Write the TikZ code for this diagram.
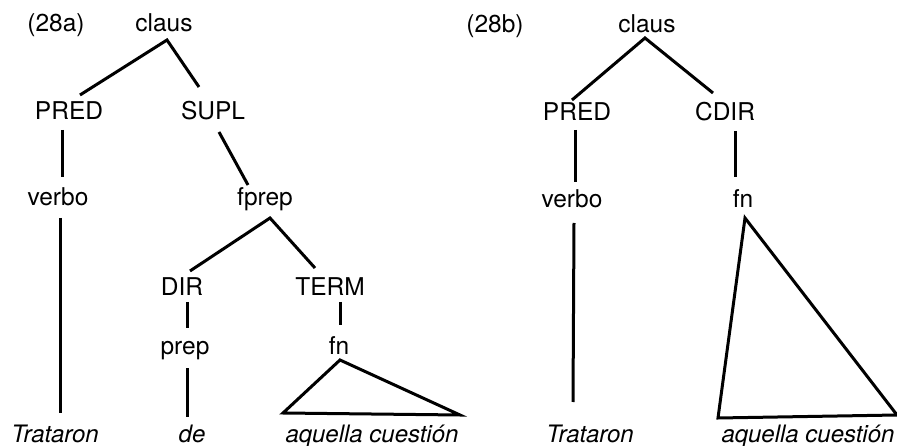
\documentclass[tikz,border=0pt]{standalone}
\usepackage{fontspec}
\setmainfont{TeX Gyre Heros}
\usetikzlibrary{calc}

\begin{document}
\begin{tikzpicture}[x=1pt, y=-1pt,
    lbl/.style={anchor=base, inner sep=0pt, font=\fontsize{24.5}{29}\selectfont},
    leaf/.style={lbl, font=\fontsize{24}{29}\selectfont\itshape},
    branch/.style={line width=3pt}]
    \useasboundingbox (0,0) rectangle (897,446);
    % (28a)
    \node[lbl] (laba) at (56,32) {(28a)};
    \node[lbl] (clausa) at (164,32) {claus};
    \node[lbl] (preda) at (69,120) {PRED};
    \node[lbl] (supla) at (213,120) {SUPL};
    \node[lbl] (verboa) at (58,206) {verbo};
    \node[lbl] (fprepa) at (265,206) {fprep};
    \node[lbl] (dira) at (182,296) {DIR};
    \node[lbl] (terma) at (330,296) {TERM};
    \node[lbl] (prepa) at (185,354) {prep};
    \node[lbl] (fna) at (339,355) {fn};
    \node[leaf] (trata) at (55,442) {Trataron};
    \node[leaf] (dea) at (192,442) {de};
    \node[leaf] (aqa) at (372,442) {aquella cuestión};
    \draw[branch] ($(preda.base)+(11,-25)$) -- ($(clausa.base)+(3,8)$) -- ($(supla.base)+(-14,-33)$);
    \draw[branch] ($(preda.base)+(-7,10)$) -- ($(verboa.base)+(4,-29)$);
    \draw[branch] ($(verboa.base)+(2,12)$) -- ($(trata.base)+(5,-29)$);
    \draw[branch] ($(supla.base)+(6,12)$) -- ($(fprepa.base)+(-17,-21)$);
    \draw[branch] ($(dira.base)+(8,-25)$) -- ($(fprepa.base)+(5,12)$) -- ($(terma.base)+(-15,-28)$);
    \draw[branch] ($(dira.base)+(5,6)$) -- ($(prepa.base)+(2,-26)$);
    \draw[branch] ($(prepa.base)+(2,14)$) -- ($(dea.base)+(-5,-25)$);
    \draw[branch] ($(terma.base)+(10,6)$) -- ($(fna.base)+(1,-30)$);
    \draw[branch] ($(fna.base)+(1,5)$) -- ($(aqa.base)+(-89,-29)$) -- ($(aqa.base)+(88,-27)$) -- cycle;
    % (28b)
    \node[lbl] (labb) at (495,33) {(28b)};
    \node[lbl] (clausb) at (647,33) {claus};
    \node[lbl] (predb) at (577,121) {PRED};
    \node[lbl] (cdirb) at (725,121) {CDIR};
    \node[lbl] (verbob) at (572,208) {verbo};
    \node[lbl] (fnb) at (743,208) {fn};
    \node[leaf] (tratb) at (590,442) {Trataron};
    \node[leaf] (aqb) at (808,442) {aquella cuestión};
    \draw[branch] ($(predb.base)+(-5,-21)$) -- ($(clausb.base)+(-2,5)$) -- ($(cdirb.base)+(-12,-28)$);
    \draw[branch] ($(predb.base)+(-2,9)$) -- ($(verbob.base)+(3,-26)$);
    \draw[branch] ($(cdirb.base)+(10,10)$) -- ($(fnb.base)+(-8,-31)$);
    \draw[branch] ($(verbob.base)+(2,15)$) -- ($(tratb.base)+(-17,-40)$);
    \draw[branch] ($(fnb.base)+(2,10)$) -- ($(aqb.base)+(-90,-24)$) -- ($(aqb.base)+(89,-27)$) -- cycle;
\end{tikzpicture}
\end{document}
